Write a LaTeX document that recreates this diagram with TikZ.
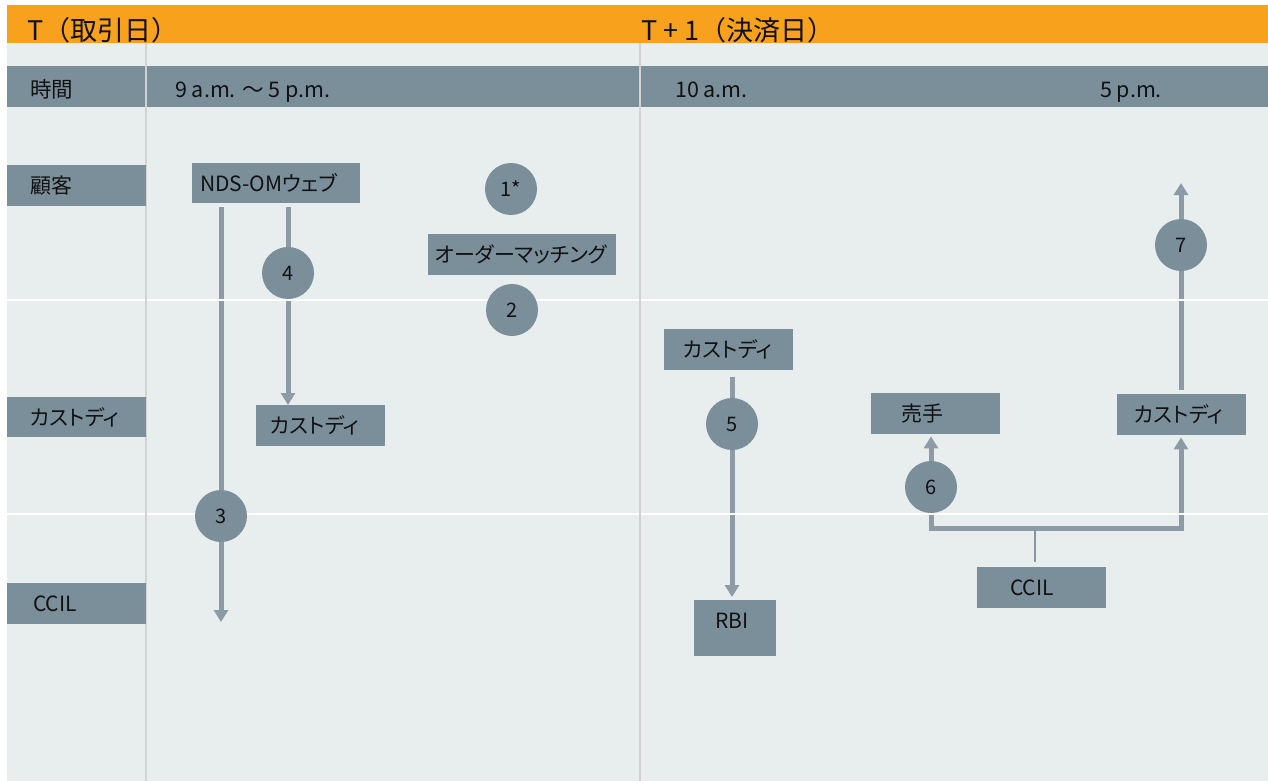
\documentclass[tikz,border=0pt]{standalone}
\usepackage{fontspec}
\setmainfont{Noto Sans CJK JP}
\newfontfamily\jpp{Noto Sans CJK JP}[RawFeature=+palt]
\usetikzlibrary{arrows.meta,calc}
\definecolor{orangeband}{HTML}{F8A11C}
\definecolor{paper}{HTML}{E8EEEE}
\definecolor{slate}{HTML}{7B8F9B}
\definecolor{divider}{HTML}{D2D2D2}
\definecolor{arrowc}{HTML}{8C9BA5}
\definecolor{tiec}{HTML}{8497A2}
\definecolor{ink}{HTML}{111111}
\pgfdeclarelayer{back}
\pgfdeclarelayer{conn}
\pgfdeclarelayer{grid}
\pgfsetlayers{back,conn,grid,main}
\tikzset{mytip/.tip={Triangle[width=14pt,length=12pt]}}
\begin{document}
\begin{tikzpicture}[x=1pt,y=-1pt,
  lbl/.style={font=\jpp\fontsize{21}{25}\selectfont, text=ink},
  box/.style={lbl, fill=slate, anchor=north west, inner ysep=0, align=left},
  num/.style={circle, fill=slate, minimum size=52, inner sep=0, font=\fontsize{20}{24}\selectfont, text=ink},
  hdr/.style={anchor=base west, inner sep=0, font=\fontsize{27}{31}\selectfont, text=ink},
  timetxt/.style={anchor=base west, inner sep=0, font=\fontsize{21.5}{26}\selectfont, text=ink},
  arr/.style={draw=arrowc, line width=5, line join=miter, -mytip},
  tie/.style={draw=tiec, line width=2},
]
\useasboundingbox (0,0) rectangle (1268,781);
\begin{pgfonlayer}{back}
\fill[paper] (7,43) rectangle (1268,781);
\fill[orangeband] (7,5) rectangle (1268,43);
\fill[slate] (7,66) rectangle (1268,107);
\end{pgfonlayer}
\begin{pgfonlayer}{grid}
\draw[white, line width=2] (7,300) -- (1268,300) (7,514) -- (1268,514);
\draw[divider, line width=2] (146,43) -- (146,781) (640,43) -- (640,781);
\end{pgfonlayer}

% headers and time row
\node[hdr] (hT) at (27,41) {T（取引日）};
\node[hdr] (hT1) at (641,41) {T + 1（決済日）};
\node[timetxt] (tJ) at (30,98) {時間};
\node[timetxt] (t1) at (175,98) {9 a.m. ～ 5 p.m.};
\node[timetxt] (t2) at (675,98) {10 a.m.};
\node[timetxt] (t3) at (1100,98) {5 p.m.};

% row labels
\node[box, minimum height=41, text width=93, inner xsep=23] (lC) at (7,165) {顧客};
\node[box, minimum height=40, text width=93, inner xsep=23] (lK) at (7,397) {カストディ};
\node[box, minimum height=41, text width=87, inner xsep=26] (lCC) at (7,583) {CCIL};

% boxes
\node[box, minimum height=40, text width=152, inner xsep=8] (nds) at (192,163) {\mbox{NDS-OMウェブ}};
\node[box, minimum height=41, text width=174, inner xsep=7] (om) at (428,234) {オーダーマッチング};
\node[box, minimum height=41, text width=101, inner xsep=14] (kT) at (256,405) {カストディ};
\node[box, minimum height=41, text width=91, inner xsep=19] (k10) at (664,329) {カストディ};
\node[box, text height=28, text depth=28, text width=40, inner xsep=21] (rbi) at (694,600) {RBI};
\node[box, minimum height=41, text width=69, inner xsep=30] (seller) at (871,393) {売手};
\node[box, minimum height=41, text width=95, inner xsep=17] (kR) at (1117,394) {カストディ};
\node[box, minimum height=41, text width=63, inner xsep=33] (ccilR) at (977,567) {CCIL};

% step circles
\node[num] (c1) at (511,189) {1*};
\node[num] (c2) at (512,310) {2};
\node[num] (c3) at (221,516) {3};
\node[num] (c4) at (288,273) {4};
\node[num] (c5) at (732,424) {5};
\node[num] (c6) at (931,487) {6};
\node[num] (c7) at (1181,245) {7};

\coordinate (end3) at (221,622);
\coordinate (end7) at (1181,183);
\coordinate (j) at (1035,528);

\begin{pgfonlayer}{conn}
\draw[arr, shorten <=4] (c3 |- nds.south) -- (end3);
\draw[arr, shorten <=4] (c4 |- nds.south) -- (c4 |- kT.north);
\draw[arr, shorten <=7, shorten >=3] (c5 |- k10.south) -- (c5 |- rbi.north);
\draw[arr, shorten <=4] (c7 |- kR.north) -- (end7);
\draw[arr, mytip-mytip, shorten <=2, shorten >=2] (c6 |- seller.south) -- (c6 |- j) -- (c7 |- j) -- (c7 |- kR.south);
\draw[tie, shorten >=5] (j) -- (j |- ccilR.north);
\end{pgfonlayer}
\end{tikzpicture}
\end{document}
